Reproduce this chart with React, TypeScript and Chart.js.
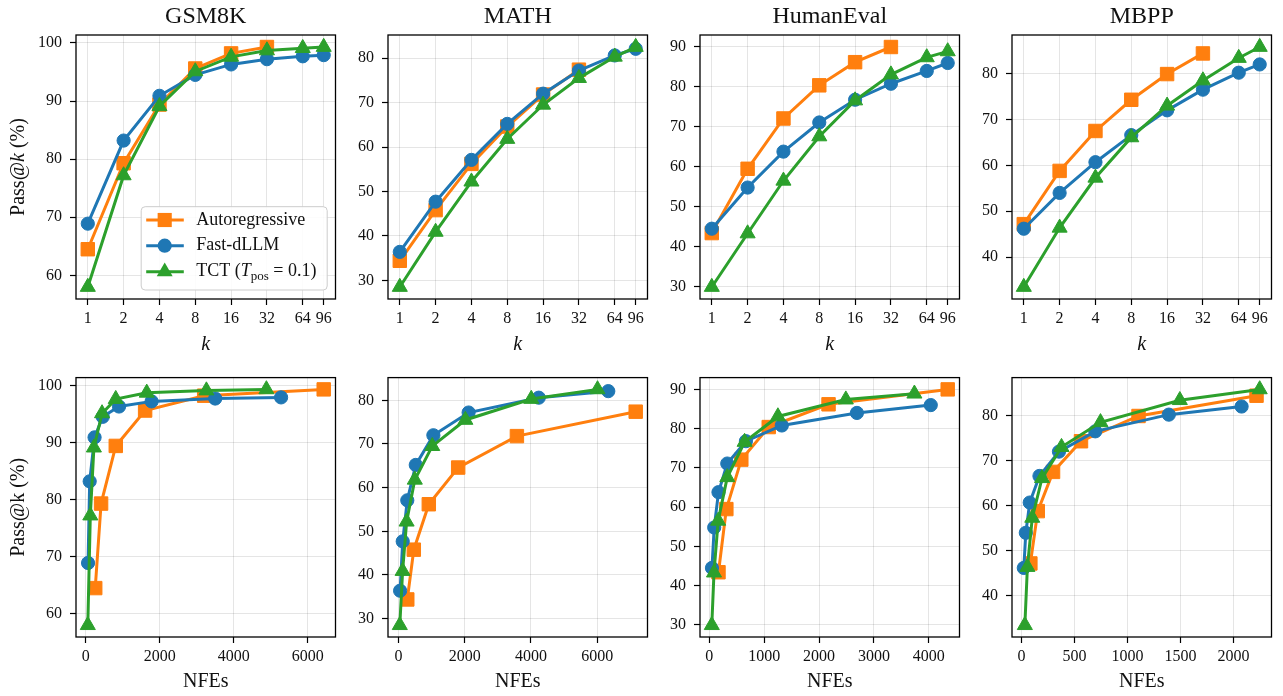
import React, { useEffect, useRef } from 'react';
import { Chart, registerables } from 'chart.js';

Chart.register(...registerables);

const FONT = "'Liberation Serif', 'Times New Roman', serif";

// ---------- data ----------
const K_VALUES = [1, 2, 4, 8, 16, 32, 64, 96];
const AR_K_VALUES = [1, 2, 4, 8, 16, 32];
const K_TICKS = [1, 2, 4, 8, 16, 32, 64, 96];

const SERIES_NAMES = ['Autoregressive', 'Fast-dLLM', 'TCT (T_pos = 0.1)'];
const BENCHMARKS = ['GSM8K', 'MATH', 'HumanEval', 'MBPP'];

// GSM8K
const GSM8K_AR = [64.5, 79.3, 89.4, 95.6, 98.2, 99.3];
const GSM8K_FAST = [68.9, 83.2, 90.9, 94.5, 96.3, 97.2, 97.7, 97.9];
const GSM8K_TCT = [58.0, 77.2, 89.1, 95.1, 97.6, 98.7, 99.1, 99.3];
const GSM8K_AR_NFE = [256, 414, 811, 1604, 3200, 6430];
const GSM8K_FAST_NFE = [62, 106, 238, 458, 899, 1780, 3498, 5278];
const GSM8K_TCT_NFE = [55, 123, 220, 440, 810, 1648, 3260, 4881];
const GSM8K_Y_TICKS = [60, 70, 80, 90, 100];
const GSM8K_NFE_TICKS = [0, 2000, 4000, 6000];

// MATH
const MATH_AR = [34.4, 45.8, 56.2, 64.6, 71.8, 77.4];
const MATH_FAST = [36.4, 47.7, 57.1, 65.2, 72.0, 77.2, 80.6, 82.1];
const MATH_TCT = [28.5, 40.9, 52.2, 61.8, 69.5, 75.5, 80.3, 82.5];
const MATH_AR_NFE = [266, 463, 916, 1803, 3576, 7163];
const MATH_FAST_NFE = [49, 128, 266, 522, 1054, 2118, 4236, 6335];
const MATH_TCT_NFE = [40, 125, 246, 493, 1020, 2020, 4010, 6010];
const MATH_Y_TICKS = [30, 40, 50, 60, 70, 80];
const MATH_NFE_TICKS = [0, 2000, 4000, 6000];

// HumanEval
const HE_AR = [43.4, 59.5, 72.1, 80.4, 86.2, 90.0];
const HE_FAST = [44.5, 54.8, 63.8, 71.1, 76.8, 80.8, 84.0, 86.0];
const HE_TCT = [29.9, 43.3, 56.5, 67.6, 76.6, 83.1, 87.4, 88.9];
const HE_AR_NFE = [167, 310, 583, 1083, 2173, 4345];
const HE_FAST_NFE = [48, 89, 167, 327, 667, 1321, 2690, 4036];
const HE_TCT_NFE = [45, 85, 161, 327, 643, 1250, 2488, 3738];
const HE_Y_TICKS = [30, 40, 50, 60, 70, 80, 90];
const HE_NFE_TICKS = [0, 1000, 2000, 3000, 4000];

// MBPP
const MBPP_AR = [47.2, 58.8, 67.5, 74.3, 79.9, 84.4];
const MBPP_FAST = [46.2, 54.0, 60.7, 66.6, 72.0, 76.5, 80.2, 82.0];
const MBPP_TCT = [33.5, 46.4, 57.3, 66.1, 73.0, 78.5, 83.4, 85.8];
const MBPP_AR_NFE = [83, 153, 297, 561, 1104, 2218];
const MBPP_FAST_NFE = [21, 40, 77, 169, 353, 696, 1390, 2077];
const MBPP_TCT_NFE = [31, 55, 101, 193, 377, 745, 1494, 2248];
const MBPP_Y_TICKS = [40, 50, 60, 70, 80];
const MBPP_NFE_TICKS = [0, 500, 1000, 1500, 2000];

// ---------- styles ----------
const COLORS = ['#ff7f0e', '#1f77b4', '#2ca02c'];
const SHAPES = ['rect', 'circle', 'triangle'];
const RADII = [9.5, 6.6, 8.7];
const GRID = 'rgba(0,0,0,0.1)';
const TEXT = '#111';

const COL_LEFT = [76, 388, 700, 1012];
const PLOT_W = 265;
const Y_AXIS_W = 76;
const RIGHT_PAD = 5;
const CANVAS_W = Y_AXIS_W + PLOT_W + RIGHT_PAD;
const ROW_TOP = [0, 360];
const ROW_H = [360, 336];
const X_AXIS_H = [61, 59];

type Group = {
  pass: number[][];
  nfe: number[][];
  yTicks: number[];
  nfeTicks: number[];
};

const GROUPS: Group[] = [
  { pass: [GSM8K_AR, GSM8K_FAST, GSM8K_TCT], nfe: [GSM8K_AR_NFE, GSM8K_FAST_NFE, GSM8K_TCT_NFE], yTicks: GSM8K_Y_TICKS, nfeTicks: GSM8K_NFE_TICKS },
  { pass: [MATH_AR, MATH_FAST, MATH_TCT], nfe: [MATH_AR_NFE, MATH_FAST_NFE, MATH_TCT_NFE], yTicks: MATH_Y_TICKS, nfeTicks: MATH_NFE_TICKS },
  { pass: [HE_AR, HE_FAST, HE_TCT], nfe: [HE_AR_NFE, HE_FAST_NFE, HE_TCT_NFE], yTicks: HE_Y_TICKS, nfeTicks: HE_NFE_TICKS },
  { pass: [MBPP_AR, MBPP_FAST, MBPP_TCT], nfe: [MBPP_AR_NFE, MBPP_FAST_NFE, MBPP_TCT_NFE], yTicks: MBPP_Y_TICKS, nfeTicks: MBPP_NFE_TICKS },
];

function padRange(vals: number[]) {
  const mn = Math.min(...vals);
  const mx = Math.max(...vals);
  const m = (mx - mn) * 0.05;
  return [mn - m, mx + m];
}

function drawMarker(ctx: CanvasRenderingContext2D, shape: string, x: number, y: number, r: number, color: string) {
  ctx.save();
  ctx.fillStyle = color;
  ctx.beginPath();
  if (shape === 'rect') {
    const s = r * Math.SQRT1_2;
    ctx.rect(x - s, y - s, 2 * s, 2 * s);
  } else if (shape === 'circle') {
    ctx.arc(x, y, r, 0, Math.PI * 2);
  } else {
    const h = Math.sin(Math.PI / 3) * r;
    ctx.moveTo(x, y - r);
    ctx.lineTo(x + h, y + r / 2);
    ctx.lineTo(x - h, y + r / 2);
    ctx.closePath();
  }
  ctx.fill();
  ctx.restore();
}

type Run = { text: string; font: string; dy?: number };
function drawRuns(ctx: CanvasRenderingContext2D, runs: Run[], x: number, y: number, align: 'left' | 'center') {
  let total = 0;
  runs.forEach((r) => {
    ctx.font = r.font;
    total += ctx.measureText(r.text).width;
  });
  let cx = align === 'center' ? x - total / 2 : x;
  ctx.textAlign = 'left';
  ctx.textBaseline = 'middle';
  ctx.fillStyle = TEXT;
  runs.forEach((r) => {
    ctx.font = r.font;
    ctx.fillText(r.text, cx, y + (r.dy || 0));
    cx += ctx.measureText(r.text).width;
  });
}

const framePlugin = {
  id: 'frame',
  afterDatasetsDraw(chart: any) {
    const { ctx, chartArea: a } = chart;
    ctx.save();
    ctx.strokeStyle = '#000';
    ctx.lineWidth = 1.3;
    ctx.strokeRect(a.left, a.top, a.right - a.left, a.bottom - a.top);
    ctx.restore();
  },
};

const legendPlugin = {
  id: 'customLegend',
  afterDraw(chart: any) {
    const { ctx, chartArea: a } = chart;
    const w = 186;
    const h = 83.3;
    const bx = a.right - 8.3 - w;
    const by = a.bottom - 9 - h;
    ctx.save();
    ctx.beginPath();
    const rr = 4;
    ctx.moveTo(bx + rr, by);
    ctx.lineTo(bx + w - rr, by);
    ctx.arcTo(bx + w, by, bx + w, by + rr, rr);
    ctx.lineTo(bx + w, by + h - rr);
    ctx.arcTo(bx + w, by + h, bx + w - rr, by + h, rr);
    ctx.lineTo(bx + rr, by + h);
    ctx.arcTo(bx, by + h, bx, by + h - rr, rr);
    ctx.lineTo(bx, by + rr);
    ctx.arcTo(bx, by, bx + rr, by, rr);
    ctx.closePath();
    ctx.fillStyle = 'rgba(255,255,255,0.85)';
    ctx.fill();
    ctx.strokeStyle = '#cccccc';
    ctx.lineWidth = 1;
    ctx.stroke();
    const rows = [13.3, 39, 65];
    const f = `18px ${FONT}`;
    rows.forEach((dy, i) => {
      const y = by + dy;
      ctx.strokeStyle = COLORS[i];
      ctx.lineWidth = 3;
      ctx.beginPath();
      ctx.moveTo(bx + 5, y);
      ctx.lineTo(bx + 42.6, y);
      ctx.stroke();
      drawMarker(ctx, SHAPES[i], bx + 23.5, y, RADII[i] + 0.5, COLORS[i]);
      if (i < 2) {
        drawRuns(ctx, [{ text: SERIES_NAMES[i], font: f }], bx + 55, y, 'left');
      } else {
        drawRuns(
          ctx,
          [
            { text: 'TCT (', font: f },
            { text: 'T', font: `italic 18px ${FONT}` },
            { text: 'pos', font: `13px ${FONT}`, dy: 4.5 },
            { text: ' = 0.1)', font: f },
          ],
          bx + 55,
          y,
          'left'
        );
      }
    });
    ctx.restore();
  },
};

const yTitleRichPlugin = {
  id: 'yTitleRich',
  afterDraw(chart: any) {
    const { ctx, chartArea: a } = chart;
    ctx.save();
    ctx.translate(19, (a.top + a.bottom) / 2);
    ctx.rotate(-Math.PI / 2);
    drawRuns(
      ctx,
      [
        { text: 'Pass@', font: `20px ${FONT}` },
        { text: 'k', font: `italic 20px ${FONT}` },
        { text: ' (%)', font: `20px ${FONT}` },
      ],
      0,
      0,
      'center'
    );
    ctx.restore();
  },
};

function buildChart(canvas: HTMLCanvasElement, row: number, col: number) {
  const g = GROUPS[col];
  const allY = ([] as number[]).concat(...g.pass);
  const [yMin, yMax] = padRange(allY);
  let xMin: number;
  let xMax: number;
  if (row === 0) {
    const lmin = Math.log2(K_VALUES[0]);
    const lmax = Math.log2(K_VALUES[K_VALUES.length - 1]);
    const m = (lmax - lmin) * 0.05;
    xMin = Math.pow(2, lmin - m);
    xMax = Math.pow(2, lmax + m);
  } else {
    const r = padRange(([] as number[]).concat(...g.nfe));
    xMin = r[0];
    xMax = r[1];
  }
  const order = [3, 2, 1];
  const datasets = [0, 1, 2].map((i) => {
    const xs = row === 0 ? (i === 0 ? AR_K_VALUES : K_VALUES) : g.nfe[i];
    const ys = g.pass[i];
    return {
      label: SERIES_NAMES[i],
      data: xs.map((x, j) => ({ x, y: ys[j] })),
      borderColor: COLORS[i],
      backgroundColor: COLORS[i],
      pointBackgroundColor: COLORS[i],
      pointBorderColor: COLORS[i],
      pointBorderWidth: 1,
      borderWidth: 3,
      pointStyle: SHAPES[i],
      pointRadius: RADII[i],
      tension: 0,
      order: order[i],
    };
  });
  const xTicks = row === 0 ? K_TICKS : g.nfeTicks;
  const tickFont = { family: FONT, size: 16 };
  const plugins: any[] = [framePlugin];
  if (row === 0 && col === 0) plugins.push(legendPlugin, yTitleRichPlugin);

  return new Chart(canvas, {
    type: 'line',
    data: { datasets } as any,
    plugins,
    options: {
      animation: false,
      responsive: false,
      events: [],
      layout: { padding: { top: row === 0 ? 0 : 13, left: 0, right: RIGHT_PAD, bottom: 0 } },
      plugins: {
        legend: { display: false },
        tooltip: { enabled: false },
        title: {
          display: row === 0,
          text: BENCHMARKS[col],
          fullSize: false,
          color: TEXT,
          font: { family: FONT, size: 24, weight: 'normal' },
          padding: { top: 2, bottom: 4.2 },
        },
      },
      scales: {
        x: {
          type: row === 0 ? 'logarithmic' : 'linear',
          min: xMin,
          max: xMax,
          afterBuildTicks: (s: any) => {
            s.ticks = xTicks.map((v) => ({ value: v }));
          },
          afterFit: (s: any) => {
            s.height = X_AXIS_H[row];
          },
          ticks: {
            autoSkip: false,
            maxRotation: 0,
            minRotation: 0,
            font: tickFont,
            color: TEXT,
            padding: 4,
            callback: (v: any) => String(v),
          },
          grid: { color: GRID, lineWidth: 1, tickColor: '#000', tickLength: 6, tickWidth: 1.2 },
          border: { display: false },
          title: {
            display: true,
            text: row === 0 ? 'k' : 'NFEs',
            color: TEXT,
            font: { family: FONT, size: 20, style: row === 0 ? 'italic' : 'normal' },
            padding: { top: 0, bottom: row === 0 ? 3 : 2.3 },
          },
        },
        y: {
          type: 'linear',
          min: yMin,
          max: yMax,
          afterBuildTicks: (s: any) => {
            s.ticks = g.yTicks.map((v) => ({ value: v }));
          },
          afterFit: (s: any) => {
            s.width = Y_AXIS_W;
          },
          ticks: { font: tickFont, color: TEXT, padding: 8, autoSkip: false, callback: (v: any) => String(v) },
          grid: { color: GRID, lineWidth: 1, tickColor: '#000', tickLength: 6, tickWidth: 1.2 },
          border: { display: false },
          title: {
            display: row === 1 && col === 0,
            text: 'Pass@k (%)',
            color: TEXT,
            font: { family: FONT, size: 20 },
            padding: { top: 7, bottom: 0 },
          },
        },
      },
    } as any,
  });
}

const PANELS = [0, 1].flatMap((row) => [0, 1, 2, 3].map((col) => ({ row, col })));

export default function App() {
  const refs = useRef<(HTMLCanvasElement | null)[]>([]);
  useEffect(() => {
    const charts = PANELS.map((p, i) => buildChart(refs.current[i] as HTMLCanvasElement, p.row, p.col));
    return () => charts.forEach((c) => c.destroy());
  }, []);
  return (
    <div style={{ position: 'absolute', left: 0, top: 0, width: 1283, height: 696, background: '#fff', overflow: 'hidden' }}>
      {PANELS.map((p, i) => (
        <canvas
          key={i}
          ref={(el) => {
            refs.current[i] = el;
          }}
          width={CANVAS_W}
          height={ROW_H[p.row]}
          style={{
            position: 'absolute',
            left: COL_LEFT[p.col] - Y_AXIS_W,
            top: ROW_TOP[p.row],
            width: CANVAS_W,
            height: ROW_H[p.row],
          }}
        />
      ))}
    </div>
  );
}
